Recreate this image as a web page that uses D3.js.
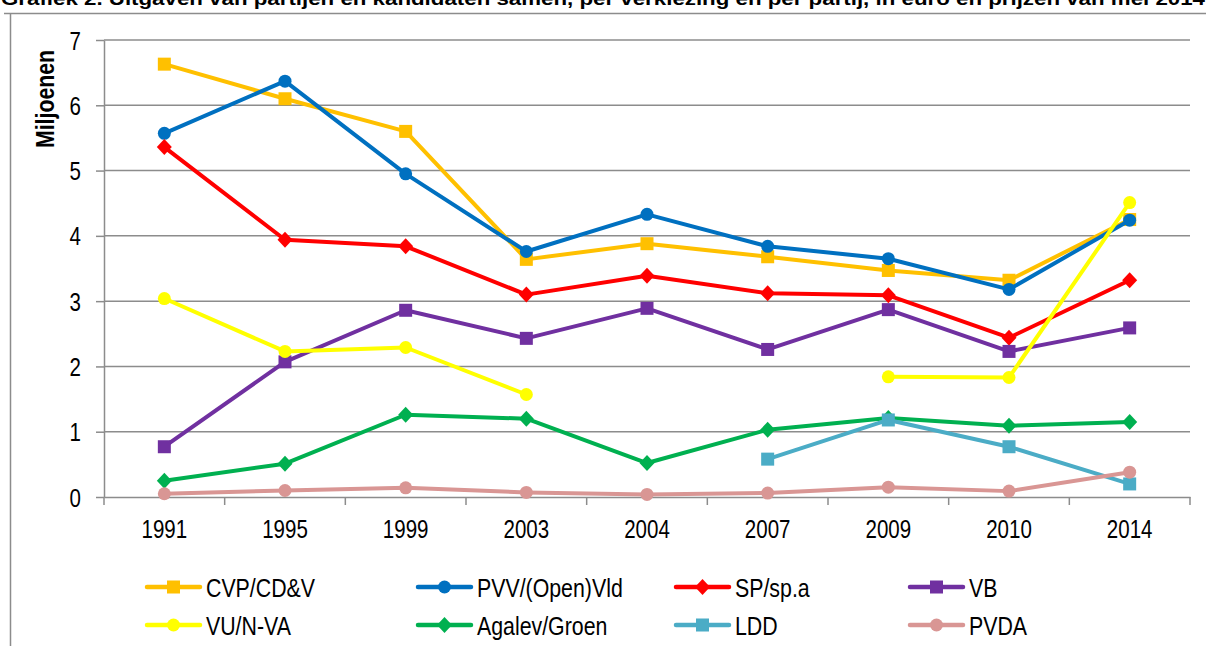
<!DOCTYPE html>
<html>
<head>
<meta charset="utf-8">
<script src="https://cdn.jsdelivr.net/npm/d3@7"></script>
<style>
  body { margin: 0; background: #fff; }
  svg { display: block; }
  text { font-family: "Liberation Sans", Arial, sans-serif; fill: #000; }
</style>
</head>
<body>
<div id="chart"></div>
<script>
const years = ["1991", "1995", "1999", "2003", "2004", "2007", "2009", "2010", "2014"];
const yTicks = [0, 1, 2, 3, 4, 5, 6, 7];

const cvp    = [6.63, 6.10, 5.60, 3.64, 3.88, 3.68, 3.47, 3.32, 4.25];
const pvv    = [5.57, 6.37, 4.95, 3.76, 4.33, 3.84, 3.65, 3.18, 4.24];
const sp     = [5.36, 3.94, 3.84, 3.10, 3.39, 3.12, 3.09, 2.44, 3.32];
const vb     = [0.77, 2.07, 2.86, 2.43, 2.89, 2.26, 2.87, 2.23, 2.59];
const vu     = [3.04, 2.23, 2.29, 1.57, null, null, 1.84, 1.83, 4.51];
const agalev = [0.25, 0.51, 1.26, 1.20, 0.52, 1.03, 1.21, 1.09, 1.15];
const ldd    = [null, null, null, null, null, 0.58, 1.18, 0.77, 0.20];
const pvda   = [0.05, 0.10, 0.14, 0.07, 0.04, 0.06, 0.15, 0.09, 0.38];

const series = [
  { name: "CVP/CD&V",        values: cvp,    color: "#FFC000", marker: "square" },
  { name: "PVV/(Open)Vld",   values: pvv,    color: "#0070C0", marker: "circle" },
  { name: "SP/sp.a",         values: sp,     color: "#FF0000", marker: "diamond" },
  { name: "VB",              values: vb,     color: "#7030A0", marker: "square" },
  { name: "VU/N-VA",         values: vu,     color: "#FFFF00", marker: "circle" },
  { name: "Agalev/Groen",    values: agalev, color: "#00B050", marker: "diamond" },
  { name: "LDD",             values: ldd,    color: "#4BACC6", marker: "square" },
  { name: "PVDA",            values: pvda,   color: "#D99694", marker: "circle" }
];

const W = 1206, H = 646;
const plot = { left: 104, right: 1190, top: 40, bottom: 497 };

const svg = d3.select("#chart").append("svg")
  .attr("width", W).attr("height", H);

// squeeze text horizontally to look like the narrow font of the original
function narrow(sel, f = 0.82) {
  sel.each(function () {
    const len = this.getComputedTextLength();
    d3.select(this).attr("textLength", len * f).attr("lengthAdjust", "spacingAndGlyphs");
  });
}

// outer frame (partly cut off)
svg.append("path")
  .attr("d", `M4,13.5H${W} M10.5,13.5V${H}`)
  .attr("stroke", "#8c8c8c").attr("stroke-width", 1.5).attr("fill", "none");

svg.append("text")
  .attr("x", 1).attr("y", 5)
  .attr("textLength", 1204).attr("lengthAdjust", "spacingAndGlyphs")
  .style("font-weight", "bold").style("font-size", "19px")
  .text("Grafiek 2. Uitgaven van partijen en kandidaten samen, per verkiezing en per partij, in euro en prijzen van mei 2014");

const x = d3.scaleBand().domain(years).range([plot.left, plot.right]).padding(0);
const y = d3.scaleLinear().domain([0, 7]).range([plot.bottom, plot.top]);
const cx = d => x(d) + x.bandwidth() / 2;

// gridlines
svg.append("g")
  .selectAll("line")
  .data(yTicks.filter(t => t > 0))
  .enter().append("line")
  .attr("x1", plot.left).attr("x2", plot.right)
  .attr("y1", d => y(d)).attr("y2", d => y(d))
  .attr("stroke", "#8c8c8c").attr("stroke-width", 1.5);

// y axis
const yAxis = svg.append("g")
  .attr("transform", `translate(${plot.left},0)`)
  .call(d3.axisLeft(y).tickValues(yTicks).tickFormat(d3.format("d"))
    .tickSize(8).tickSizeOuter(0).tickPadding(15));
yAxis.select(".domain").attr("stroke", "#8c8c8c").attr("stroke-width", 1.5);
yAxis.selectAll(".tick line").attr("stroke", "#8c8c8c").attr("stroke-width", 1.5);
yAxis.selectAll(".tick text").style("font-size", "25px").attr("dy", "0.36em").call(narrow);

// x axis
const xAxis = svg.append("g")
  .attr("transform", `translate(0,${plot.bottom})`)
  .call(d3.axisBottom(x).tickSize(0).tickSizeOuter(0).tickPadding(23));
xAxis.select(".domain").attr("stroke", "#8c8c8c").attr("stroke-width", 1.5);
xAxis.selectAll(".tick text").style("font-size", "25px").call(narrow);
xAxis.append("g")
  .selectAll("line")
  .data(years.map(d => x(d)).concat([plot.right]))
  .enter().append("line")
  .attr("x1", d => d).attr("x2", d => d)
  .attr("y1", 0).attr("y2", 8)
  .attr("stroke", "#8c8c8c").attr("stroke-width", 1.5);

// y axis title
svg.append("text")
  .attr("transform", `translate(54,99) rotate(-90)`)
  .attr("text-anchor", "middle")
  .style("font-weight", "bold").style("font-size", "25px")
  .text("Miljoenen")
  .call(narrow, 0.85);

function drawMarker(g, type, color, px, py) {
  if (type === "square") {
    g.append("rect").attr("x", px - 6.5).attr("y", py - 6.5)
      .attr("width", 13).attr("height", 13).attr("fill", color);
  } else if (type === "circle") {
    g.append("circle").attr("cx", px).attr("cy", py).attr("r", 6.5).attr("fill", color);
  } else {
    g.append("path").attr("d", `M${px},${py - 8}L${px + 7.5},${py}L${px},${py + 8}L${px - 7.5},${py}Z`)
      .attr("fill", color);
  }
}

const line = d3.line()
  .defined(d => d.v !== null)
  .x(d => cx(d.year))
  .y(d => y(d.v));

series.forEach(s => {
  const pts = years.map((year, i) => ({ year, v: s.values[i] }));
  const g = svg.append("g");
  g.append("path")
    .attr("d", line(pts))
    .attr("fill", "none")
    .attr("stroke", s.color)
    .attr("stroke-width", 4)
    .attr("stroke-linejoin", "round");
  pts.filter(p => p.v !== null).forEach(p => drawMarker(g, s.marker, s.color, cx(p.year), y(p.v)));
});

// legend
const legendCols = [147, 418, 676, 910];
const legendRows = [587, 625];
series.forEach((s, i) => {
  const lx = legendCols[i % 4], ly = legendRows[Math.floor(i / 4)];
  const g = svg.append("g");
  g.append("line")
    .attr("x1", lx).attr("x2", lx + 53).attr("y1", ly).attr("y2", ly)
    .attr("stroke", s.color).attr("stroke-width", 4.5).attr("stroke-linecap", "round");
  drawMarker(g, s.marker, s.color, lx + 26.5, ly);
  g.append("text")
    .attr("x", lx + 59).attr("y", ly + 9.5)
    .style("font-size", "26px")
    .text(s.name)
    .call(narrow);
});
</script>
</body>
</html>
